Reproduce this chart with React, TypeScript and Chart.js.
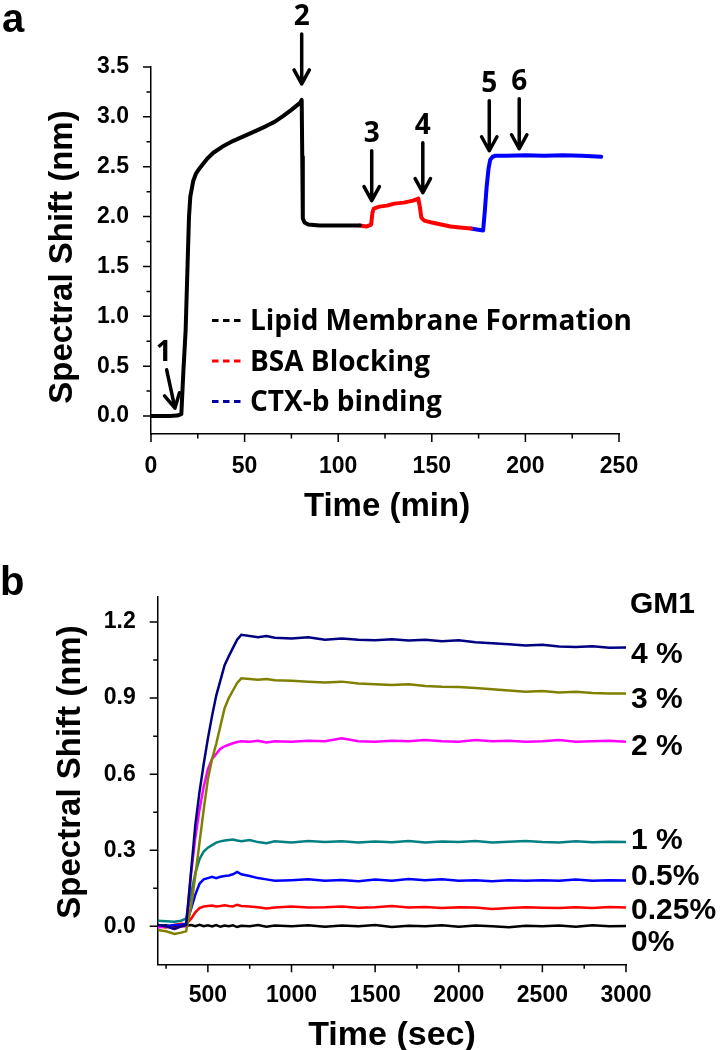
import React, { useEffect, useRef } from 'react';
import { Chart, registerables } from 'chart.js';
Chart.register(...registerables);

// ---------- Panel a data (time in min, spectral shift in nm) ----------
const lipidTime = [0, 5, 10, 14, 16.2, 17.3, 18.5, 19.6, 20.3, 21, 22.6, 24, 26.2, 30, 33.3, 38, 44, 50, 56, 61.8, 66, 70.7, 75, 79.6, 80.5, 80.8, 81.1, 82, 84, 90, 100, 111.6];
const lipidShift = [0, 0, 0, 0.005, 0.02, 0.45, 0.86, 1.56, 2.0, 2.2, 2.36, 2.43, 2.49, 2.58, 2.64, 2.7, 2.76, 2.81, 2.86, 2.91, 2.95, 3.01, 3.07, 3.14, 3.17, 2.6, 1.98, 1.94, 1.92, 1.91, 1.91, 1.91];
const bsaTime = [111.6, 115, 117.6, 118.3, 119, 122, 126, 130, 135, 140, 142.8, 143.6, 144.4, 146, 150, 155, 160, 165, 171];
const bsaShift = [1.91, 1.9, 1.92, 2.04, 2.08, 2.1, 2.11, 2.13, 2.14, 2.16, 2.18, 2.1, 1.99, 1.96, 1.94, 1.92, 1.9, 1.89, 1.88];
const ctxbTime = [171, 174, 177.4, 178.3, 179.3, 180.3, 181.2, 182.5, 184, 190, 200, 210, 220, 230, 240.5];
const ctxbShift = [1.88, 1.87, 1.86, 2.05, 2.3, 2.48, 2.57, 2.6, 2.61, 2.61, 2.615, 2.61, 2.615, 2.61, 2.6];
const seriesNamesA = ['Lipid Membrane Formation', 'BSA Blocking', 'CTX-b binding'];
const seriesColorsA = ['#000000', '#FF0000', '#0000FF'];
const legendColorsA = ['#000000', '#FF0000', '#0000A0'];
const markerLabels = ['1', '2', '3', '4', '5', '6'];
const markerTimes = [12.8, 80.5, 117.9, 145.2, 180.7, 196.7];
const markerTips = [0.08, 3.33, 2.16, 2.24, 2.66, 2.68];
const xTicksA = [0, 50, 100, 150, 200, 250];
const xMinorA = [25, 75, 125, 175, 225];
const yTicksA = [0, 0.5, 1, 1.5, 2, 2.5, 3, 3.5];
const yMinorA = [0.25, 0.75, 1.25, 1.75, 2.25, 2.75, 3.25];

// ---------- Panel b data (time in sec, spectral shift in nm) ----------
const timeB = [200, 250, 300, 340, 370, 400, 425, 450, 475, 500, 525, 550, 575, 600, 625, 650, 675, 700, 750, 800, 850, 900, 1000, 1100, 1200, 1300, 1400, 1500, 1600, 1700, 1800, 1900, 2000, 2100, 2200, 2300, 2400, 2500, 2600, 2700, 2800, 2900, 3000];
const gm4 = [0.005, 0.0, -0.01, 0.0, 0.005, 0.22, 0.40, 0.53, 0.64, 0.74, 0.83, 0.91, 0.97, 1.03, 1.065, 1.098, 1.13, 1.15, 1.145, 1.14, 1.145, 1.138, 1.135, 1.14, 1.13, 1.135, 1.13, 1.128, 1.132, 1.127, 1.13, 1.124, 1.128, 1.12, 1.116, 1.112, 1.108, 1.11, 1.104, 1.102, 1.105, 1.099, 1.10];
const gm3 = [-0.015, -0.02, -0.03, -0.025, -0.02, 0.08, 0.2, 0.33, 0.46, 0.58, 0.66, 0.72, 0.79, 0.86, 0.9, 0.93, 0.96, 0.978, 0.975, 0.972, 0.975, 0.97, 0.968, 0.965, 0.962, 0.965, 0.958, 0.955, 0.952, 0.955, 0.948, 0.945, 0.944, 0.94, 0.935, 0.93, 0.925, 0.928, 0.922, 0.925, 0.92, 0.918, 0.918];
const gm2 = [-0.005, 0.0, -0.01, 0.0, 0.0, 0.21, 0.35, 0.46, 0.55, 0.62, 0.66, 0.68, 0.70, 0.71, 0.716, 0.722, 0.727, 0.73, 0.728, 0.732, 0.725, 0.73, 0.728, 0.732, 0.73, 0.742, 0.73, 0.728, 0.732, 0.73, 0.735, 0.73, 0.728, 0.735, 0.73, 0.732, 0.728, 0.73, 0.735, 0.728, 0.73, 0.732, 0.728];
const gm1 = [0.022, 0.02, 0.018, 0.022, 0.03, 0.13, 0.21, 0.265, 0.295, 0.31, 0.32, 0.33, 0.335, 0.338, 0.34, 0.342, 0.338, 0.335, 0.34, 0.332, 0.328, 0.335, 0.33, 0.336, 0.332, 0.335, 0.33, 0.334, 0.331, 0.336, 0.33, 0.334, 0.332, 0.336, 0.33, 0.333, 0.336, 0.332, 0.33, 0.335, 0.331, 0.333, 0.332];
const gm05 = [0.005, 0.0, 0.005, 0.005, 0.01, 0.07, 0.125, 0.168, 0.185, 0.19, 0.195, 0.19, 0.195, 0.198, 0.2, 0.205, 0.214, 0.205, 0.198, 0.19, 0.185, 0.18, 0.182, 0.185, 0.18, 0.183, 0.178, 0.184, 0.18, 0.186, 0.182, 0.185, 0.18, 0.182, 0.178, 0.182, 0.18, 0.182, 0.18, 0.184, 0.18, 0.182, 0.181];
const gm025 = [0.0, -0.005, 0.005, 0.01, 0.008, 0.03, 0.055, 0.072, 0.078, 0.08, 0.082, 0.078, 0.08, 0.083, 0.08, 0.078, 0.085, 0.08, 0.078, 0.075, 0.07, 0.074, 0.078, 0.074, 0.075, 0.078, 0.073, 0.075, 0.08, 0.074, 0.076, 0.072, 0.075, 0.074, 0.068, 0.072, 0.075, 0.073, 0.072, 0.075, 0.072, 0.076, 0.074];
const gm0 = [0.0, 0.004, -0.004, 0.0, 0.002, 0.005, 0.0, 0.006, 0.0, 0.004, -0.001, 0.005, -0.002, 0.003, 0.0, 0.004, -0.003, 0.002, 0.0, 0.005, -0.002, 0.003, 0.0, 0.004, -0.002, 0.003, 0.0, 0.005, -0.003, 0.002, 0.0, 0.004, -0.002, 0.003, 0.0, -0.004, 0.002, 0.0, 0.003, -0.002, 0.004, 0.0, 0.001];
const gmSeries = [gm4, gm3, gm2, gm1, gm05, gm025, gm0];
const gmLabels = ['4 %', '3 %', '2 %', '1 %', '0.5%', '0.25%', '0%'];
const gmColors = ['#000080', '#808000', '#FF00FF', '#008080', '#0000FF', '#FF0000', '#000000'];
const xTicksB = [500, 1000, 1500, 2000, 2500, 3000];
const xMinorB = [250, 750, 1250, 1750, 2250, 2750];
const yTicksB = [0, 0.3, 0.6, 0.9, 1.2];
const yMinorB = [0.15, 0.45, 0.75, 1.05];

const ARIAL = '"Liberation Sans", Arial, Helvetica, sans-serif';
const OPEN = '"Open Sans", "DejaVu Sans", sans-serif';

function pts(xs: number[], ys: number[]) {
  return xs.map((x, i) => ({ x, y: ys[i] }));
}

function drawTickMarks(chart: any, xMaj: number[], xMin: number[], yMaj: number[], yMin: number[]) {
  const { ctx, scales, chartArea: a } = chart;
  const x = scales.x, y = scales.y;
  ctx.save();
  ctx.strokeStyle = '#000';
  ctx.lineWidth = 1.5;
  ctx.beginPath();
  xMaj.forEach((v) => { const p = x.getPixelForValue(v); ctx.moveTo(p, a.bottom); ctx.lineTo(p, a.bottom + 8); });
  xMin.forEach((v) => { const p = x.getPixelForValue(v); ctx.moveTo(p, a.bottom); ctx.lineTo(p, a.bottom + 4.5); });
  yMaj.forEach((v) => { const p = y.getPixelForValue(v); ctx.moveTo(a.left, p); ctx.lineTo(a.left - 8, p); });
  yMin.forEach((v) => { const p = y.getPixelForValue(v); ctx.moveTo(a.left, p); ctx.lineTo(a.left - 4.5, p); });
  ctx.stroke();
  ctx.restore();
}

function text(ctx: any, s: string, x: number, y: number, font: string, align = 'left', color = '#000') {
  ctx.save();
  ctx.font = font;
  ctx.fillStyle = color;
  ctx.textAlign = align;
  ctx.textBaseline = 'alphabetic';
  ctx.fillText(s, x, y);
  ctx.restore();
}

function vText(ctx: any, s: string, x: number, y: number, font: string) {
  ctx.save();
  ctx.translate(x, y);
  ctx.rotate(-Math.PI / 2);
  ctx.font = font;
  ctx.fillStyle = '#000';
  ctx.textAlign = 'center';
  ctx.textBaseline = 'alphabetic';
  ctx.fillText(s, 0, 0);
  ctx.restore();
}

function axisOpts(min: number, max: number, ticks: number[], fmt: (v: number) => string, pad: number, fit: (s: any) => void) {
  return {
    type: 'linear',
    min,
    max,
    afterBuildTicks: (s: any) => { s.ticks = ticks.map((v) => ({ value: v })); },
    afterFit: fit,
    grid: { display: false },
    border: { display: true, color: '#000', width: 1.5 },
    ticks: {
      color: '#000',
      padding: pad,
      autoSkip: false,
      maxRotation: 0,
      font: { family: ARIAL, weight: 'bold', size: 23 },
      callback: (v: any) => fmt(Number(v)),
    },
  };
}

const panelAPlugin = {
  id: 'panelA',
  afterDraw(chart: any) {
    const { ctx, scales } = chart;
    const x = scales.x, y = scales.y;
    drawTickMarks(chart, xTicksA, xMinorA, yTicksA, yMinorA);
    text(ctx, 'a', 2, 32, `bold 40px ${ARIAL}`);
    vText(ctx, 'Spectral Shift (nm)', 72, 257, `bold 33px ${ARIAL}`);
    text(ctx, 'Time (min)', 387, 516, `bold 33px ${ARIAL}`, 'center');
    // legend
    const baselines = [330, 370.5, 411];
    seriesNamesA.forEach((name, i) => {
      const yy = baselines[i] - 9.5;
      ctx.save();
      ctx.strokeStyle = legendColorsA[i];
      ctx.lineWidth = 3;
      ctx.beginPath();
      [212, 223, 234].forEach((d) => { ctx.moveTo(d, yy); ctx.lineTo(d + 6.5, yy); });
      ctx.stroke();
      ctx.restore();
      text(ctx, name, 250, baselines[i], `bold 28px ${OPEN}`);
    });
    // event markers
    markerLabels.forEach((lab, i) => {
      const tx = x.getPixelForValue(markerTimes[i]);
      const ty = y.getPixelForValue(markerTips[i]);
      const vx = i === 0 ? -8.3 : 0;
      const vy = i === 0 ? -38.3 : -50;
      const sx = tx + vx, sy = ty + vy;
      const len = Math.hypot(vx, vy);
      const ux = -vx / len, uy = -vy / len;
      const ang = 0.5, hl = 16;
      ctx.save();
      ctx.strokeStyle = '#000';
      ctx.lineWidth = 3.5;
      ctx.lineCap = 'round';
      ctx.lineJoin = 'round';
      ctx.beginPath();
      ctx.moveTo(sx, sy);
      ctx.lineTo(tx, ty);
      for (const s of [ang, -ang]) {
        const rx = ux * Math.cos(s) - uy * Math.sin(s);
        const ry = ux * Math.sin(s) + uy * Math.cos(s);
        ctx.moveTo(tx, ty);
        ctx.lineTo(tx - rx * hl, ty - ry * hl);
      }
      ctx.stroke();
      ctx.restore();
      text(ctx, lab, sx - (i === 0 ? 3 : 0), sy - 9, `bold 28px ${OPEN}`, 'center');
    });
  },
};

const panelBPlugin = {
  id: 'panelB',
  afterDraw(chart: any) {
    const { ctx } = chart;
    drawTickMarks(chart, xTicksB, xMinorB, yTicksB, yMinorB);
    text(ctx, 'b', 0, 55, `bold 40px ${ARIAL}`);
    vText(ctx, 'Spectral Shift (nm)', 80, 232, `bold 33px ${ARIAL}`);
    text(ctx, 'Time (sec)', 392, 505, `bold 34px ${ARIAL}`, 'center');
    text(ctx, 'GM1', 630, 73, `bold 30px ${ARIAL}`);
    const bl = [123, 168, 215, 309, 345, 379, 411];
    gmLabels.forEach((l, i) => text(ctx, l, 631, bl[i], `bold 30px ${ARIAL}`));
  },
};

export default function App() {
  const refA = useRef<HTMLCanvasElement>(null);
  const refB = useRef<HTMLCanvasElement>(null);

  useEffect(() => {
    const chartA = new Chart(refA.current as HTMLCanvasElement, {
      type: 'line',
      data: {
        datasets: [
          { label: seriesNamesA[0], data: pts(lipidTime, lipidShift), borderColor: seriesColorsA[0], borderWidth: 4 },
          { label: seriesNamesA[1], data: pts(bsaTime, bsaShift), borderColor: seriesColorsA[1], borderWidth: 4 },
          { label: seriesNamesA[2], data: pts(ctxbTime, ctxbShift), borderColor: seriesColorsA[2], borderWidth: 4 },
        ],
      },
      options: {
        responsive: false,
        animation: false,
        layout: { padding: { top: 67, right: 107, bottom: 0, left: 0 } },
        elements: { point: { radius: 0 }, line: { tension: 0, borderJoinStyle: 'round', borderCapStyle: 'round' } },
        plugins: { legend: { display: false }, tooltip: { enabled: false } },
        scales: {
          x: axisOpts(0, 250, xTicksA, (v) => String(v), 11, (s: any) => { s.height = 106; }),
          y: axisOpts(-0.18, 3.5, yTicksA, (v) => v.toFixed(1), 14, (s: any) => { s.width = 151; }),
        },
      } as any,
      plugins: [panelAPlugin],
    });

    const chartB = new Chart(refB.current as HTMLCanvasElement, {
      type: 'line',
      data: {
        datasets: gmSeries.map((vals, i) => ({
          label: gmLabels[i],
          data: pts(timeB, vals),
          borderColor: gmColors[i],
          borderWidth: 2.5,
        })),
      },
      options: {
        responsive: false,
        animation: false,
        layout: { padding: { top: 56.7, right: 100, bottom: 0, left: 0 } },
        elements: { point: { radius: 0 }, line: { tension: 0 } },
        plugins: { legend: { display: false }, tooltip: { enabled: false } },
        scales: {
          x: axisOpts(200, 3000, xTicksB, (v) => String(v), 10, (s: any) => { s.height = 85.7; }),
          y: axisOpts(-0.15, 1.3, yTicksB, (v) => v.toFixed(1), 14, (s: any) => { s.width = 157.7; }),
        },
      } as any,
      plugins: [panelBPlugin],
    });

    return () => {
      chartA.destroy();
      chartB.destroy();
    };
  }, []);

  return (
    <div style={{ position: 'absolute', left: 0, top: 0, width: 726, height: 1050, background: '#fff' }}>
      <canvas ref={refA} width={726} height={540} style={{ position: 'absolute', left: 0, top: 0 }} />
      <canvas ref={refB} width={726} height={510} style={{ position: 'absolute', left: 0, top: 540 }} />
    </div>
  );
}
